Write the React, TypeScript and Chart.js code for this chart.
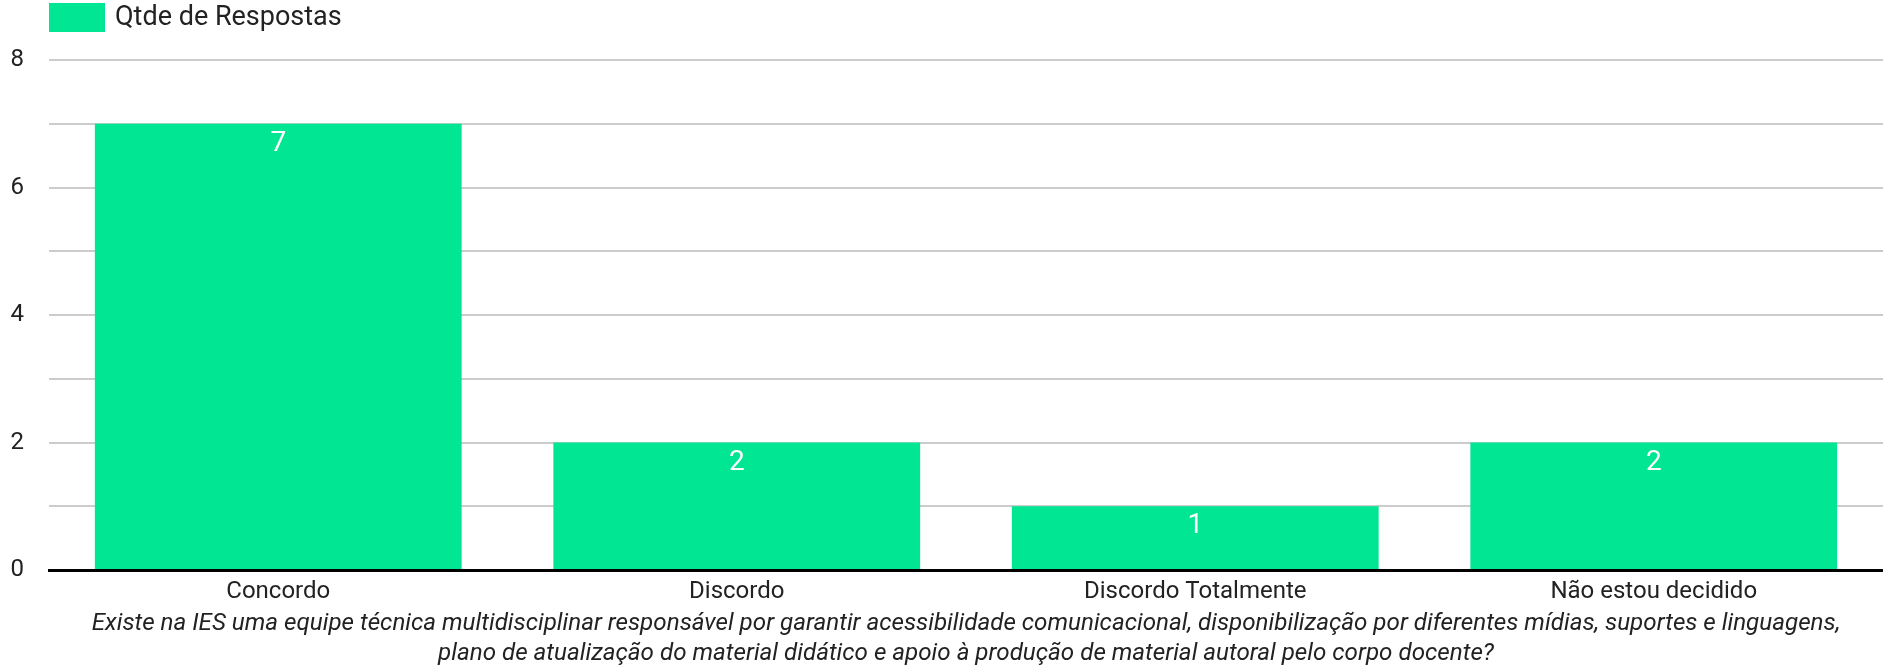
import React, { useEffect, useRef } from "react";
import { Chart, registerables } from "chart.js";

Chart.register(...registerables);

const categories = ["Concordo", "Discordo", "Discordo Totalmente", "Não estou decidido"];
const seriesName = "Qtde de Respostas";
const seriesValues = [7, 2, 1, 2];
const yTickLabels = [0, 2, 4, 6, 8];
const axisTitle = [
  "Existe na IES uma equipe técnica multidisciplinar responsável por garantir acessibilidade comunicacional, disponibilização por diferentes mídias, suportes e linguagens,",
  "plano de atualização do material didático e apoio à produção de material autoral pelo corpo docente?",
];

const BAR_COLOR = "#00e693";
const FONT = "Roboto";

const legendPlugin = {
  id: "customLegend",
  afterDraw(chart: any) {
    const ctx = chart.ctx;
    ctx.save();
    ctx.fillStyle = BAR_COLOR;
    ctx.fillRect(49, 3, 56, 29);
    ctx.fillStyle = "#222222";
    ctx.font = `27px ${FONT}`;
    ctx.textBaseline = "middle";
    ctx.textAlign = "left";
    ctx.fillText(seriesName, 115, 18);
    ctx.restore();
  },
};

const valueLabelPlugin = {
  id: "valueLabels",
  afterDatasetsDraw(chart: any) {
    const ctx = chart.ctx;
    const meta = chart.getDatasetMeta(0);
    const data = chart.data.datasets[0].data;
    ctx.save();
    ctx.fillStyle = "#ffffff";
    ctx.font = `28px ${FONT}`;
    ctx.textAlign = "center";
    ctx.textBaseline = "middle";
    meta.data.forEach((el: any, i: number) => {
      ctx.fillText(String(data[i]), el.x, el.y + 20);
    });
    ctx.restore();
  },
};

export default function App() {
  const ref = useRef<HTMLCanvasElement | null>(null);

  useEffect(() => {
    document.body.style.margin = "0";
    if (!ref.current) return;
    const chart = new Chart(ref.current, {
      type: "bar",
      data: {
        labels: categories,
        datasets: [
          {
            label: seriesName,
            data: seriesValues,
            backgroundColor: BAR_COLOR,
            borderWidth: 0,
            barPercentage: 0.8,
            categoryPercentage: 1,
          },
        ],
      },
      options: {
        animation: false,
        responsive: false,
        maintainAspectRatio: false,
        layout: { padding: { top: 60, left: 0, right: 0, bottom: 0 } },
        plugins: {
          legend: { display: false },
          tooltip: { enabled: false },
        },
        scales: {
          x: {
            grid: { display: false, drawTicks: false },
            border: { display: true, color: "#000000", width: 3 },
            ticks: {
              color: "#222222",
              font: { family: FONT, size: 24 },
              padding: 8,
              maxRotation: 0,
              autoSkip: false,
            },
            title: {
              display: true,
              text: axisTitle,
              color: "#222222",
              font: { family: FONT, size: 24.2, style: "italic", lineHeight: 1.25 },
              padding: { top: 0, bottom: 1 },
            },
            afterFit(scale: any) {
              scale.height = 100;
            },
          },
          y: {
            min: 0,
            max: 8,
            grid: {
              drawTicks: false,
              lineWidth: 2,
              color: (c: any) => (c.tick && c.tick.value === 0 ? "rgba(0,0,0,0)" : "#cccccc"),
            },
            border: { display: false },
            ticks: {
              stepSize: 1,
              color: "#222222",
              font: { family: FONT, size: 24 },
              padding: 25,
              callback: (v: any) => (yTickLabels.includes(Number(v)) ? String(v) : ""),
            },
            afterFit(scale: any) {
              scale.width = 49;
            },
          },
        },
      },
      plugins: [legendPlugin, valueLabelPlugin],
    });
    return () => chart.destroy();
  }, []);

  return (
    <div style={{ width: 1883, height: 670 }}>
      <canvas ref={ref} width={1883} height={670} />
    </div>
  );
}
